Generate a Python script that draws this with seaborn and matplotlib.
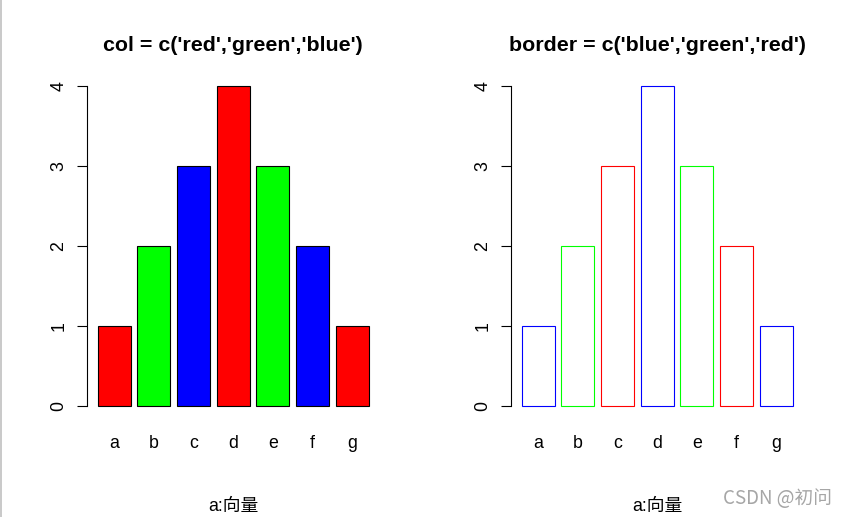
import matplotlib
matplotlib.use("Agg")
import matplotlib.pyplot as plt
from matplotlib.lines import Line2D
import seaborn as sns
import pandas as pd

# ==========================================
# DATA
# ==========================================
categories = ["a", "b", "c", "d", "e", "f", "g"]
values = [1, 2, 3, 4, 3, 2, 1]
fill_cycle = ["red", "#00FF00", "blue"]      # col = c('red','green','blue')
border_cycle = ["blue", "#00FF00", "red"]    # border = c('blue','green','red')
titles = ["col = c('red','green','blue')", "border = c('blue','green','red')"]
xlabel = "a:向量"
yticks = [0, 1, 2, 3, 4]

df = pd.DataFrame({"name": categories, "value": values})
fill_colors = [fill_cycle[i % len(fill_cycle)] for i in range(len(categories))]
border_colors = [border_cycle[i % len(border_cycle)] for i in range(len(categories))]

# ==========================================
# STYLE
# ==========================================
sns.set_style("white")
plt.rcParams["font.family"] = ["Liberation Sans", "Noto Sans CJK SC", "DejaVu Sans"]
plt.rcParams["text.color"] = "black"
plt.rcParams["axes.labelcolor"] = "black"
plt.rcParams["xtick.color"] = "black"
plt.rcParams["ytick.color"] = "black"

W, H = 847, 517
fig = plt.figure(figsize=(W / 100, H / 100), dpi=100)

# R barplot look: width 1, space 0.2 -> seaborn width 1/1.2, 4% axis expansion
bar_w = 1 / 1.2
span = (len(categories) - 1) + bar_w
xpad = span * 0.04
ax_w = 292.5 / W
ax_b = (H - 418.8) / H
ax_h = 345.6 / H
lefts = [87 / W, 511 / W]

for k in range(2):
    ax = fig.add_axes([lefts[k], ax_b, ax_w, ax_h])
    if k == 0:
        sns.barplot(data=df, x="name", y="value", hue="name", palette=fill_colors,
                    width=bar_w, edgecolor="black", linewidth=0.8, errorbar=None,
                    legend=False, ax=ax, saturation=1)
    else:
        sns.barplot(data=df, x="name", y="value", hue="name", palette=border_colors,
                    width=bar_w, fill=False, linewidth=0.8, errorbar=None,
                    legend=False, ax=ax, saturation=1)
        for patch, c in zip(ax.patches, border_colors):
            patch.set_facecolor("white")
            patch.set_edgecolor(c)

    ax.set_xlim(-bar_w / 2 - xpad, len(categories) - 1 + bar_w / 2 + xpad)
    ax.set_ylim(-0.16, 4.16)
    for side in ["top", "right", "bottom"]:
        ax.spines[side].set_visible(False)
    ax.spines["left"].set_bounds(0, 4)
    ax.spines["left"].set_linewidth(0.8)
    ax.spines["left"].set_color("black")

    ax.set_yticks(yticks)
    ax.set_yticklabels([str(v) for v in yticks], rotation=90, va="center")
    ax.tick_params(axis="y", length=7.2, width=0.8, color="black", pad=7,
                   labelsize=12.8, left=True, labelcolor="black")
    ax.tick_params(axis="x", length=0, pad=12, labelsize=12.8, labelcolor="black")

    ax.set_ylabel("")
    ax.set_xlabel(xlabel, fontsize=12.8, labelpad=33, color="black")
    ax.set_title(titles[k], fontsize=15.4, fontweight="bold", pad=16, color="black")

# gray frame line on the left edge of the screenshot
fig.add_artist(Line2D([0.8 / W, 0.8 / W], [0, 1], color="#c0c0c0", linewidth=1.2))

# watermark
fig.text(832 / W, 1 - 499 / H, "CSDN @初问", color="#a6a6a6", fontsize=13.5,
         ha="right", va="center", family=["Noto Sans CJK SC", "DejaVu Sans"])

fig.savefig("out.png", dpi=100)
